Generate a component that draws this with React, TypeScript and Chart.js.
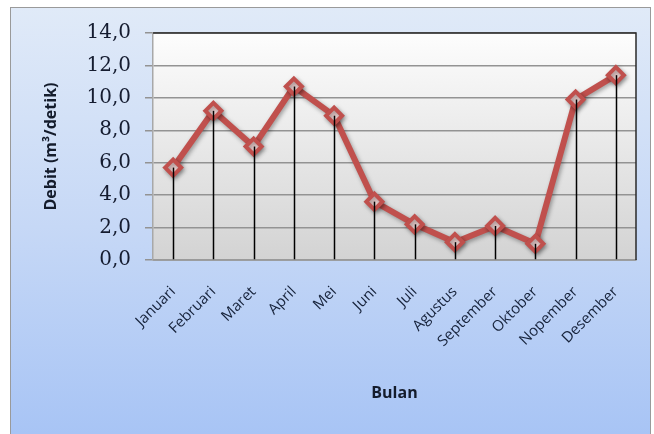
import React, { useEffect, useRef } from "react";
import { Chart, registerables } from "chart.js";

Chart.register(...registerables);

const categories = [
  "Januari", "Februari", "Maret", "April", "Mei", "Juni",
  "Juli", "Agustus", "September", "Oktober", "Nopember", "Desember",
];
const debit = [5.7, 9.2, 7.0, 10.7, 8.9, 3.6, 2.2, 1.1, 2.1, 1.0, 9.9, 11.4];
const yMin = 0;
const yMax = 14;
const yStep = 2;
const yAxisTitle = "Debit (m³/detik)";
const xAxisTitle = "Bulan";

const plotBgPlugin = {
  id: "plotBg",
  beforeDraw(chart: any) {
    const { ctx, chartArea } = chart;
    const { left, top, right, bottom } = chartArea;
    const g = ctx.createLinearGradient(0, top, 0, bottom);
    g.addColorStop(0, "#fdfdfd");
    g.addColorStop(1, "#d3d3d3");
    ctx.save();
    ctx.fillStyle = g;
    ctx.fillRect(left, top, right - left, bottom - top);
    ctx.restore();
  },
};

const shadowPlugin = {
  id: "lineShadow",
  beforeDatasetDraw(chart: any) {
    const ctx = chart.ctx;
    ctx.save();
    ctx.shadowColor = "rgba(0,0,0,0.35)";
    ctx.shadowBlur = 4;
    ctx.shadowOffsetX = 1.5;
    ctx.shadowOffsetY = 2;
  },
  afterDatasetDraw(chart: any) {
    chart.ctx.restore();
  },
};

const dropLinePlugin = {
  id: "dropLines",
  afterDatasetsDraw(chart: any) {
    const { ctx, chartArea, scales } = chart;
    const meta = chart.getDatasetMeta(0);
    const base = scales.y.getPixelForValue(yMin);
    ctx.save();
    ctx.strokeStyle = "#000000";
    ctx.lineWidth = 1.5;
    meta.data.forEach((pt: any) => {
      ctx.beginPath();
      ctx.moveTo(Math.round(pt.x) + 0.5, pt.y);
      ctx.lineTo(Math.round(pt.x) + 0.5, base);
      ctx.stroke();
    });
    const { left, top, right, bottom } = chartArea;
    ctx.lineWidth = 1.5;
    ctx.strokeStyle = "#9a9a9a";
    ctx.beginPath();
    ctx.moveTo(left, bottom);
    ctx.lineTo(right, bottom);
    ctx.stroke();
    ctx.strokeStyle = "#2a2a2a";
    ctx.beginPath();
    ctx.moveTo(left, top);
    ctx.lineTo(right, top);
    ctx.lineTo(right, bottom);
    ctx.stroke();
    ctx.restore();
  },
};

export default function App() {
  const ref = useRef<HTMLCanvasElement | null>(null);

  useEffect(() => {
    if (!ref.current) return;
    const chart = new Chart(ref.current, {
      type: "line",
      data: {
        labels: categories,
        datasets: [
          {
            data: debit,
            borderColor: "#c0504d",
            borderWidth: 6,
            tension: 0,
            pointStyle: "rectRot",
            pointRadius: 8,
            pointBorderWidth: 4,
            pointBorderColor: "#c0504d",
            pointBackgroundColor: "#f4d6d5",
          },
        ],
      },
      options: {
        animation: false,
        responsive: false,
        maintainAspectRatio: false,
        layout: { padding: { top: 33, right: 18, bottom: 0, left: 0 } },
        plugins: {
          legend: { display: false },
          tooltip: { enabled: false },
        },
        scales: {
          x: {
            offset: true,
            grid: { display: false, drawTicks: false },
            border: { display: true, color: "#9a9a9a", width: 1.5 },
            ticks: {
              autoSkip: false,
              maxRotation: 45,
              minRotation: 45,
              padding: 23,
              color: "#16223a",
              font: { family: "'Open Sans'", size: 15 },
            },
            title: {
              display: true,
              text: xAxisTitle,
              color: "#141c2c",
              font: { family: "'Open Sans'", size: 16, weight: "bold" },
              padding: { top: 0, bottom: 31 },
            },
            afterFit(scale: any) {
              scale.height = 174;
            },
          },
          y: {
            min: yMin,
            max: yMax,
            ticks: {
              stepSize: yStep,
              padding: 14,
              color: "#151c30",
              font: { family: "'DejaVu Serif'", size: 20 },
              callback: (v: any) => Number(v).toFixed(1).replace(".", ","),
            },
            grid: {
              color: "#939393",
              lineWidth: 1.5,
              tickLength: 8,
              tickColor: "#939393",
            },
            border: { display: true, color: "#a8a8a8", width: 1.5 },
            title: {
              display: true,
              text: yAxisTitle,
              color: "#141c2c",
              font: { family: "'Open Sans'", size: 16, weight: "bold" },
              padding: { top: 42, bottom: 0 },
            },
            afterFit(scale: any) {
              scale.width = 153;
            },
          },
        },
      },
      plugins: [plotBgPlugin, shadowPlugin, dropLinePlugin],
    });
    return () => chart.destroy();
  }, []);

  return (
    <div style={{ position: "absolute", left: 0, top: 0, width: 654, height: 434, overflow: "hidden", background: "#ffffff" }}>
      <div
        style={{
          position: "absolute",
          left: 10,
          top: 7,
          width: 641,
          height: 440,
          border: "1px solid #9a9a9a",
          background: "linear-gradient(to bottom, #e0eaf8 0%, #c6d8f6 50%, #a6c3f5 100%)",
          boxSizing: "border-box",
        }}
      />
      <canvas ref={ref} width={654} height={434} style={{ position: "absolute", left: 0, top: 0 }} />
    </div>
  );
}
